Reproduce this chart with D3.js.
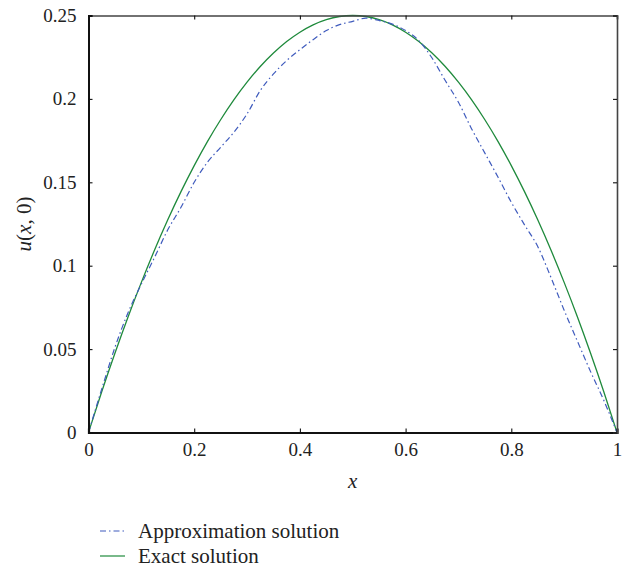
<!DOCTYPE html>
<html>
<head>
<meta charset="utf-8">
<script src="https://cdn.jsdelivr.net/npm/d3@7"></script>
<style>
  html, body { margin: 0; padding: 0; background: #fff; }
  svg { display: block; }
  text { font-family: "Liberation Serif", "DejaVu Serif", serif; fill: #222; }
</style>
</head>
<body>
<svg id="chart" width="629" height="569"></svg>
<script>
// Sample positions along x
const xs = [0, 0.025, 0.05, 0.075, 0.1, 0.125, 0.15, 0.175, 0.2, 0.225, 0.25, 0.275, 0.3, 0.325, 0.35, 0.375, 0.4, 0.425, 0.45, 0.475, 0.5,
            0.525, 0.55, 0.575, 0.6, 0.625, 0.65, 0.675, 0.7, 0.725, 0.75, 0.775, 0.8, 0.825, 0.85, 0.875, 0.9, 0.925, 0.95, 0.975, 1];

// Approximate solution u(x, 0)
const approx = [0, 0.026, 0.051, 0.072, 0.089, 0.105, 0.1215, 0.135, 0.150, 0.162, 0.171, 0.180, 0.191, 0.205, 0.215, 0.223, 0.2295, 0.2355, 0.241, 0.2445, 0.2465,
                0.2484, 0.247, 0.2448, 0.241, 0.235, 0.2245, 0.211, 0.198, 0.182, 0.1675, 0.153, 0.138, 0.1245, 0.1115, 0.093, 0.0733, 0.0548, 0.0365, 0.0193, 0];

// Exact solution u(x, 0)
const exact = [0, 0.0244, 0.0475, 0.0694, 0.09, 0.1094, 0.1275, 0.1444, 0.16, 0.1744, 0.1875, 0.1994, 0.21, 0.2194, 0.2275, 0.2344, 0.24, 0.2444, 0.2475, 0.2494, 0.25,
               0.2494, 0.2475, 0.2444, 0.24, 0.2344, 0.2275, 0.2194, 0.21, 0.1994, 0.1875, 0.1744, 0.16, 0.1444, 0.1275, 0.1094, 0.09, 0.0694, 0.0475, 0.0244, 0];

const xTicks = [0, 0.2, 0.4, 0.6, 0.8, 1];
const yTicks = [0, 0.05, 0.1, 0.15, 0.2, 0.25];
const xTickLabels = ["0", "0.2", "0.4", "0.6", "0.8", "1"];
const yTickLabels = ["0", "0.05", "0.1", "0.15", "0.2", "0.25"];
const legendLabels = ["Approximation solution", "Exact solution"];

const svg = d3.select("#chart");
const plot = { left: 88.5, right: 617, top: 15.5, bottom: 432.5 };

const x = d3.scaleLinear().domain([0, 1]).range([plot.left, plot.right]);
const y = d3.scaleLinear().domain([0, 0.25]).range([plot.bottom, plot.top]);

const blue = "#3f5bbd";
const green = "#1f8a3c";
const approxDash = "6,3,1.5,3";

// Curves
const approxPts = xs.map((v, i) => [x(v), y(approx[i])]);
const exactPts = xs.map((v, i) => [x(v), y(exact[i])]);

svg.append("path").attr("d", d3.line().curve(d3.curveNatural)(exactPts))
  .attr("fill", "none").attr("stroke", green).attr("stroke-width", 1.3);
svg.append("path").attr("d", d3.line().curve(d3.curveMonotoneX)(approxPts))
  .attr("fill", "none").attr("stroke", blue).attr("stroke-width", 1.2)
  .attr("stroke-dasharray", approxDash);

// Frame with inward ticks on all four sides
const tickLen = 4;
const fmt = (labels, ticks) => d => labels[ticks.indexOf(d)];

const gB = svg.append("g").attr("transform", `translate(0,${plot.bottom})`)
  .call(d3.axisBottom(x).tickValues(xTicks).tickSize(-tickLen).tickPadding(10).tickFormat(fmt(xTickLabels, xTicks)));
const gT = svg.append("g").attr("transform", `translate(0,${plot.top})`)
  .call(d3.axisTop(x).tickValues(xTicks).tickSize(-tickLen).tickFormat(""));
const gL = svg.append("g").attr("transform", `translate(${plot.left},0)`)
  .call(d3.axisLeft(y).tickValues(yTicks).tickSize(-tickLen).tickPadding(12).tickFormat(fmt(yTickLabels, yTicks)));
const gR = svg.append("g").attr("transform", `translate(${plot.right},0)`)
  .call(d3.axisRight(y).tickValues(yTicks).tickSize(-tickLen).tickFormat(""));

[gB, gT, gL, gR].forEach(g => {
  g.select(".domain").attr("stroke", "#111").attr("stroke-width", 1.6);
  g.selectAll(".tick line").attr("stroke", "#111").attr("stroke-width", 1.1);
  g.selectAll(".tick text").style("font-family", "'Liberation Serif', serif").style("font-size", "19px").attr("fill", "#222");
});
gB.select(".domain").attr("stroke-width", 2.2);
gL.select(".domain").attr("stroke-width", 2);
gT.select(".domain").attr("stroke", "#444");
gR.select(".domain").attr("stroke", "#444");

// Axis titles
svg.append("text").attr("x", (plot.left + plot.right) / 2).attr("y", 488)
  .attr("text-anchor", "middle").style("font-size", "21px").style("font-style", "italic").text("x");

const yTitle = svg.append("text")
  .attr("transform", `translate(31,${(plot.top + plot.bottom) / 2}) rotate(-90)`)
  .attr("text-anchor", "middle").style("font-size", "21px");
yTitle.append("tspan").style("font-style", "italic").text("u");
yTitle.append("tspan").text("(");
yTitle.append("tspan").style("font-style", "italic").text("x");
yTitle.append("tspan").text(", 0)");

// Legend
const legend = svg.append("g");
const rows = [
  { label: legendLabels[0], color: blue, dash: approxDash, y: 531 },
  { label: legendLabels[1], color: green, dash: null, y: 556 }
];
rows.forEach(r => {
  legend.append("line").attr("x1", 100).attr("x2", 125).attr("y1", r.y).attr("y2", r.y)
    .attr("stroke", r.color).attr("stroke-width", 1.2).attr("stroke-dasharray", r.dash);
  legend.append("text").attr("x", 138).attr("y", r.y).attr("dy", "0.35em")
    .style("font-size", "21px").text(r.label);
});
</script>
</body>
</html>
